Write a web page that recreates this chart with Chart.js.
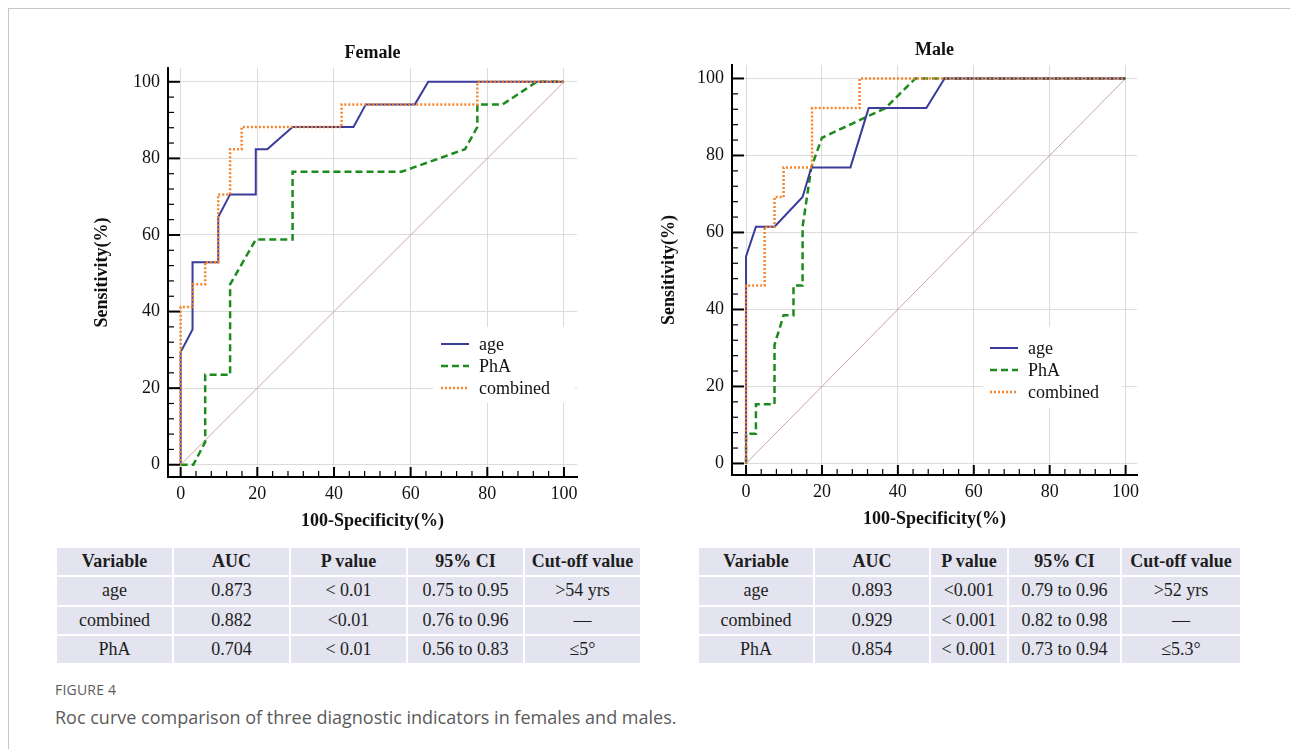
<!DOCTYPE html>
<html>
<head>
<meta charset="utf-8">
<script src="https://cdn.jsdelivr.net/npm/chart.js@4.4.0/dist/chart.umd.min.js"></script>
<style>
  body { margin: 0; background: #fff; width: 1290px; height: 749px; position: relative; overflow: hidden; }
  .frame { position: absolute; left: 8px; top: 8px; width: 1300px; height: 760px;
           border-top: 1px solid #c6c6c6; border-left: 1px solid #c6c6c6; }
  .plot { position: absolute; }
  #femaleBox { left: 40px; top: 20px; width: 560px; height: 520px; }
  #maleBox { left: 610px; top: 20px; width: 550px; height: 520px; }
  table.stats { position: absolute; border-collapse: collapse; table-layout: fixed;
                background: #e3e4ef; font-family: "Liberation Serif", serif; font-size: 18px; color: #1e1e1e; }
  table.stats td, table.stats th { border: 2px solid #fff; text-align: center; padding: 0; height: 27.3px; }
  table.stats th { font-weight: bold; }
  #femaleTable { left: 55px; top: 546px; width: 585px; }
  #maleTable { left: 697px; top: 546px; width: 543px; }
  .figlabel { position: absolute; left: 55px; top: 680px; font-family: "Open Sans", sans-serif;
              font-size: 14px; color: #5b5b5b; letter-spacing: 0.2px; }
  .caption { position: absolute; left: 55px; top: 705px; font-family: "Open Sans", sans-serif;
             font-size: 18px; color: #5b5b5b; }
</style>
</head>
<body>
<div class="frame"></div>
<div class="plot" id="femaleBox"><canvas id="femaleChart"></canvas></div>
<div class="plot" id="maleBox"><canvas id="maleChart"></canvas></div>

<table class="stats" id="femaleTable"></table>
<table class="stats" id="maleTable"></table>

<div class="figlabel">FIGURE 4</div>
<div class="caption">Roc curve comparison of three diagnostic indicators in females and males.</div>

<script>
// 100-specificity (x) and sensitivity (y)
const femaleAgeX = [0, 0, 3.1, 3.1, 9.8, 9.8, 12.9, 19.6, 19.6, 22.6, 29.2, 45.1, 48.3, 61.1, 64.6, 100];
const femaleAgeY = [0, 29.4, 35.3, 52.9, 52.9, 64.7, 70.6, 70.6, 82.4, 82.4, 88.2, 88.2, 94.1, 94.1, 100, 100];
const femalePhaX = [0, 3.3, 6.4, 6.4, 12.9, 12.9, 19.6, 29.2, 29.2, 57.6, 74.2, 77.4, 77.4, 84.0, 92.9, 100];
const femalePhaY = [0, 0, 5.9, 23.5, 23.5, 47.1, 58.8, 58.8, 76.5, 76.5, 82.4, 88.2, 94.1, 94.1, 100, 100];
const femaleCombX = [0, 0, 3.1, 3.1, 6.4, 6.4, 9.8, 9.8, 12.9, 12.9, 15.9, 15.9, 42.0, 42.0, 77.4, 77.4, 100];
const femaleCombY = [0, 41.2, 41.2, 47.1, 47.1, 52.9, 52.9, 70.6, 70.6, 82.4, 82.4, 88.2, 88.2, 94.1, 94.1, 100, 100];

const maleAgeX = [0, 0, 2.6, 7.5, 14.9, 17.2, 27.5, 32.3, 47.5, 52.3, 100];
const maleAgeY = [0, 53.8, 61.5, 61.5, 69.2, 76.9, 76.9, 92.3, 92.3, 100, 100];
const malePhaX = [0, 0, 2.6, 2.6, 7.5, 7.5, 9.9, 12.5, 12.5, 14.9, 14.9, 17.2, 20.0, 36.7, 44.6, 100];
const malePhaY = [0, 7.7, 7.7, 15.4, 15.4, 30.8, 38.5, 38.5, 46.2, 46.2, 61.5, 76.9, 84.6, 92.3, 100, 100];
const maleCombX = [0, 0, 4.9, 4.9, 7.5, 7.5, 9.9, 9.9, 17.4, 17.4, 29.9, 29.9, 100];
const maleCombY = [0, 46.2, 46.2, 61.5, 61.5, 69.2, 69.2, 76.9, 76.9, 92.3, 92.3, 100, 100];

const refX = [0, 100];
const refY = [0, 100];

const tickValues = [0, 20, 40, 60, 80, 100];
const seriesNames = ['age', 'PhA', 'combined'];

const tableHead = ['Variable', 'AUC', 'P value', '95% CI', 'Cut-off value'];
const femaleRows = [
    ['age', '0.873', '< 0.01', '0.75 to 0.95', '>54 yrs'],
    ['combined', '0.882', '<0.01', '0.76 to 0.96', '—'],
    ['PhA', '0.704', '< 0.01', '0.56 to 0.83', '≤5°']
];
const maleRows = [
    ['age', '0.893', '<0.001', '0.79 to 0.96', '>52 yrs'],
    ['combined', '0.929', '< 0.001', '0.82 to 0.98', '—'],
    ['PhA', '0.854', '< 0.001', '0.73 to 0.94', '≤5.3°']
];

const serif = '"Liberation Serif", "Times New Roman", serif';

function pts(xs, ys) {
    return xs.map((x, i) => ({ x: x, y: ys[i] }));
}

// inward tick marks (major every 20, minor every 4)
const innerTicks = {
    id: 'innerTicks',
    afterDraw(chart) {
        const { ctx, chartArea: a, scales: { x, y } } = chart;
        ctx.save();
        ctx.strokeStyle = '#000';
        for (let v = 0; v <= 100; v += 4) {
            const major = v % 20 === 0;
            ctx.lineWidth = major ? 2 : 1.2;
            const py = y.getPixelForValue(v);
            ctx.beginPath();
            ctx.moveTo(a.left, py);
            ctx.lineTo(a.left + (major ? 12 : 6), py);
            ctx.stroke();
            const px = x.getPixelForValue(v);
            ctx.beginPath();
            ctx.moveTo(px, a.bottom);
            ctx.lineTo(px, a.bottom - (major ? 10 : 6));
            ctx.stroke();
        }
        ctx.restore();
    }
};

const rocLegend = {
    id: 'rocLegend',
    afterDraw(chart, args, o) {
        const { ctx, chartArea: a } = chart;
        const bx = a.right - o.right - o.width;
        const by = a.bottom - o.bottom - o.height;
        ctx.save();
        ctx.fillStyle = '#fff';
        ctx.fillRect(bx, by, o.width, o.height);
        ctx.font = '18px ' + serif;
        ctx.textBaseline = 'middle';
        seriesNames.forEach((name, i) => {
            const ds = chart.data.datasets.find(d => d.label === name);
            const yy = by + o.rowTop + i * o.rowGap;
            ctx.strokeStyle = ds.borderColor;
            ctx.lineWidth = ds.borderWidth;
            ctx.setLineDash(ds.borderDash || []);
            ctx.beginPath();
            ctx.moveTo(bx + o.lineX, yy);
            ctx.lineTo(bx + o.lineX + 28, yy);
            ctx.stroke();
            ctx.setLineDash([]);
            ctx.fillStyle = '#111';
            ctx.fillText(name, bx + o.lineX + 38, yy + 1);
        });
        ctx.restore();
    }
};

function makeChart(id, title, d, lay) {
    return new Chart(document.getElementById(id), {
        type: 'scatter',
        data: {
            datasets: [{
                label: 'age', data: pts(d.ageX, d.ageY), borderColor: '#3b3b9c',
                borderWidth: 2, order: 2
            }, {
                label: 'PhA', data: pts(d.phaX, d.phaY), borderColor: '#1d8a1d',
                borderWidth: 2.5, borderDash: [7, 4], order: 3
            }, {
                label: 'combined', data: pts(d.combX, d.combY), borderColor: '#f5842c',
                borderWidth: 2.5, borderDash: [2, 2], order: 1
            }, {
                label: 'ref', data: pts(refX, refY), borderColor: '#caa2a8',
                borderWidth: 1, order: 4
            }].map(ds => Object.assign(ds, { showLine: true, pointRadius: 0, tension: 0, fill: false }))
        },
        options: {
            responsive: true,
            maintainAspectRatio: false,
            animation: false,
            layout: { padding: { left: 0, top: 0, bottom: 0, right: lay.padRight } },
            plugins: {
                legend: { display: false },
                tooltip: { enabled: false },
                title: {
                    display: true, text: title, color: '#111', fullSize: false,
                    font: { family: serif, size: 18, weight: 'bold' },
                    padding: { top: lay.titleTop, bottom: lay.titleBottom }
                },
                rocLegend: lay.legend
            },
            scales: {
                x: {
                    type: 'linear', min: lay.xMin, max: lay.xMax,
                    afterFit: s => { s.height = lay.xHeight; },
                    afterBuildTicks: s => { s.ticks = tickValues.map(v => ({ value: v })); },
                    ticks: { color: '#111', padding: 6, font: { family: serif, size: 18 } },
                    grid: { color: '#dcdcdc', lineWidth: 1, drawTicks: false },
                    border: { color: '#000', width: 2 },
                    title: {
                        display: true, text: '100-Specificity(%)', color: '#111',
                        font: { family: serif, size: 18, weight: 'bold' },
                        padding: { top: 0, bottom: lay.xTitlePad }
                    }
                },
                y: {
                    type: 'linear', min: lay.yMin, max: lay.yMax,
                    afterFit: s => { s.width = lay.yWidth; },
                    afterBuildTicks: s => { s.ticks = tickValues.map(v => ({ value: v })); },
                    ticks: { color: '#111', padding: 8, font: { family: serif, size: 18 } },
                    grid: { color: '#dcdcdc', lineWidth: 1, drawTicks: false },
                    border: { color: '#000', width: 2 },
                    title: {
                        display: true, text: 'Sensitivity(%)', color: '#111',
                        font: { family: serif, size: 18, weight: 'bold' },
                        padding: { top: lay.yTitlePad, bottom: 0 }
                    }
                }
            }
        },
        plugins: [innerTicks, rocLegend]
    });
}

makeChart('femaleChart', 'Female', {
    ageX: femaleAgeX, ageY: femaleAgeY, phaX: femalePhaX, phaY: femalePhaY,
    combX: femaleCombX, combY: femaleCombY
}, {
    xMin: -3.3, xMax: 103.4, yMin: -3.2, yMax: 103.6,
    padRight: 23, titleTop: 23, titleBottom: 3.4, yWidth: 128, xHeight: 63,
    yTitlePad: 52, xTitlePad: 8,
    legend: { right: 2, bottom: 74, width: 142, height: 76, lineX: 8, rowTop: 17, rowGap: 22 }
});

makeChart('maleChart', 'Male', {
    ageX: maleAgeX, ageY: maleAgeY, phaX: malePhaX, phaY: malePhaY,
    combX: maleCombX, combY: maleCombY
}, {
    xMin: -3.7, xMax: 103, yMin: -3.0, yMax: 103.5,
    padRight: 23, titleTop: 20, titleBottom: 3.4, yWidth: 122, xHeight: 65,
    yTitlePad: 49, xTitlePad: 10,
    legend: { right: 15, bottom: 67, width: 139, height: 81, lineX: 7, rowTop: 21, rowGap: 22 }
});

function fillTable(id, rows, widths) {
    const t = document.getElementById(id);
    const cg = document.createElement('colgroup');
    widths.forEach(w => {
        const c = document.createElement('col');
        c.style.width = w + 'px';
        cg.appendChild(c);
    });
    t.appendChild(cg);
    const hr = document.createElement('tr');
    tableHead.forEach(h => {
        const th = document.createElement('th');
        th.textContent = h;
        hr.appendChild(th);
    });
    t.appendChild(hr);
    rows.forEach(r => {
        const tr = document.createElement('tr');
        r.forEach(v => {
            const td = document.createElement('td');
            td.textContent = v;
            tr.appendChild(td);
        });
        t.appendChild(tr);
    });
}

fillTable('femaleTable', femaleRows, [117, 117, 117, 117, 117]);
fillTable('maleTable', maleRows, [116, 116, 78, 113, 120]);
</script>
</body>
</html>
